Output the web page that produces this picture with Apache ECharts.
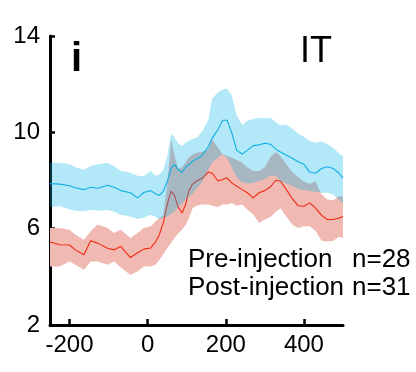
<!DOCTYPE html>
<html>
<head>
<meta charset="utf-8">
<script src="https://cdn.jsdelivr.net/npm/echarts@6/dist/echarts.min.js"></script>
<style>
html,body{margin:0;padding:0;background:#fff;}
#chart{width:416px;height:372px;}
</style>
</head>
<body>
<div id="chart"></div>
<script>
// time (ms)
var time = [-250, -225, -200, -185, -163, -146, -128, -103, -86, -69, -44, -26, -10, 8, 20, 30, 40, 50, 60, 68, 78, 88, 97, 105, 115, 125, 140, 155, 165, 180, 192, 203, 215, 228, 242, 255, 270, 285, 300, 315, 328, 340, 355, 370, 385, 400, 415, 430, 445, 460, 475, 490, 500];

// Pre-injection (blue)
var preMean = [7.87, 7.85, 7.78, 7.70, 7.62, 7.72, 7.68, 7.80, 7.72, 7.58, 7.49, 7.28, 7.50, 7.58, 7.45, 7.38, 7.55, 7.95, 8.50, 8.67, 8.45, 8.33, 8.55, 8.65, 8.80, 8.88, 9.05, 9.40, 9.75, 10.12, 10.50, 10.50, 10.00, 9.25, 9.10, 9.25, 9.45, 9.48, 9.55, 9.50, 9.30, 9.18, 9.05, 8.92, 8.78, 8.67, 8.35, 8.30, 8.50, 8.57, 8.50, 8.30, 8.10];
var preUpper = [8.74, 8.74, 8.67, 8.55, 8.45, 8.60, 8.67, 8.74, 8.60, 8.40, 8.32, 8.20, 8.18, 8.40, 8.20, 8.25, 8.45, 9.00, 9.95, 9.80, 9.55, 9.43, 9.58, 9.65, 9.72, 9.78, 10.05, 10.50, 11.40, 11.65, 11.78, 11.82, 11.55, 10.70, 10.30, 10.48, 10.55, 10.60, 10.58, 10.60, 10.42, 10.28, 10.33, 10.15, 9.95, 9.82, 9.64, 9.57, 9.62, 9.52, 9.35, 9.12, 9.01];
var preLower = [6.90, 6.93, 6.80, 6.74, 6.72, 6.79, 6.74, 6.78, 6.70, 6.58, 6.51, 6.40, 6.45, 6.58, 6.50, 6.40, 6.45, 6.52, 6.60, 6.70, 6.90, 7.05, 7.20, 7.32, 7.45, 7.65, 7.95, 8.45, 8.75, 8.95, 9.08, 8.95, 8.55, 8.15, 7.92, 7.88, 7.90, 7.98, 8.06, 8.22, 8.20, 7.97, 7.88, 7.78, 7.65, 7.60, 7.56, 7.52, 7.49, 7.49, 7.42, 7.18, 7.07];

// Post-injection (red)
var postMean = [5.45, 5.33, 5.32, 5.12, 4.92, 5.50, 5.40, 5.19, 5.12, 5.26, 4.80, 5.00, 5.15, 5.20, 5.45, 5.75, 6.25, 7.00, 7.56, 7.40, 6.90, 6.65, 7.00, 7.55, 7.85, 7.97, 8.10, 8.35, 8.30, 7.98, 8.04, 8.11, 7.90, 7.76, 7.62, 7.49, 7.28, 7.49, 7.58, 7.75, 8.01, 7.97, 7.62, 7.25, 6.95, 6.93, 7.07, 6.85, 6.55, 6.38, 6.38, 6.44, 6.51];
var postUpper = [6.03, 6.03, 5.96, 5.75, 5.54, 5.89, 6.17, 6.03, 5.82, 5.96, 5.61, 5.82, 6.03, 6.10, 6.30, 6.45, 6.55, 7.80, 9.70, 9.10, 8.50, 8.55, 8.75, 8.95, 9.08, 9.15, 9.18, 9.30, 9.70, 9.36, 9.08, 9.03, 8.95, 8.85, 8.74, 8.55, 8.39, 8.39, 8.55, 9.00, 9.18, 9.01, 8.67, 8.35, 8.15, 7.95, 7.85, 7.97, 7.42, 7.21, 7.18, 7.36, 7.32];
var postLower = [4.43, 4.43, 4.64, 4.50, 4.29, 4.64, 4.64, 4.50, 4.64, 4.40, 4.08, 4.22, 4.43, 4.43, 4.50, 4.70, 4.95, 5.19, 5.40, 5.60, 5.80, 5.95, 6.15, 6.40, 6.85, 6.95, 7.00, 7.00, 6.95, 6.90, 7.00, 7.00, 7.07, 6.95, 7.00, 6.80, 6.60, 6.24, 6.38, 6.50, 6.70, 6.85, 6.51, 6.17, 6.03, 6.10, 6.10, 5.90, 5.50, 5.47, 5.50, 5.66, 5.61];

// ticks
var xTicks = [-200, 0, 200, 400];
var yTicks = [2, 6, 10, 14];

var panelLabel = 'i';
var areaLabel = 'IT';
var groupNames = ['Pre-injection', 'Post-injection'];
var groupCounts = ['n=28', 'n=31'];

var FONT = '"Liberation Sans", Arial, Helvetica, sans-serif';

function pairs(arr) { return time.map(function (t, i) { return [t, arr[i]]; }); }

// Band drawn as one polygon through the axis scales (api.coord)
function bandSeries(name, lo, hi, color, z) {
  return {
    name: name, type: 'custom', silent: true, z: z,
    data: time.map(function (t, i) { return [t, lo[i], hi[i]]; }),
    encode: { x: 0, y: [1, 2] },
    renderItem: function (params, api) {
      if (params.dataIndex !== 0) return null;
      var pts = [];
      for (var i = 0; i < time.length; i++) pts.push(api.coord([time[i], hi[i]]));
      for (var j = time.length - 1; j >= 0; j--) pts.push(api.coord([time[j], lo[j]]));
      return { type: 'polygon', shape: { points: pts }, style: { fill: color, stroke: null } };
    }
  };
}

var chart = echarts.init(document.getElementById('chart'), null, { renderer: 'canvas' });

var series = [
  bandSeries('postBand', postLower, postUpper, '#F0B9B2', 1),
  { name: 'postMean', type: 'line', data: pairs(postMean), symbol: 'none', silent: true,
    lineStyle: { color: '#F22A12', width: 1.1 }, z: 2 },
  bandSeries('preBand', preLower, preUpper, 'rgba(0,178,232,0.3)', 3),
  { name: 'preMean', type: 'line', data: pairs(preMean), symbol: 'none', silent: true,
    lineStyle: { color: '#12AEE6', width: 1.1 }, z: 4 }
];

var legendFont = '26px ' + FONT;

chart.setOption({
  animation: false,
  backgroundColor: '#fff',
  grid: { left: 50, right: 73, top: 36, bottom: 47, containLabel: false },
  xAxis: {
    type: 'value', min: -250, max: 500,
    axisLine: { show: true, onZero: false, lineStyle: { color: '#000', width: 3 } },
    axisTick: { show: true, inside: true, length: 6, lineStyle: { color: '#000', width: 2.5 }, customValues: xTicks },
    axisLabel: { show: true, color: '#000', fontSize: 24, fontFamily: FONT, margin: 8, customValues: xTicks },
    splitLine: { show: false }
  },
  yAxis: {
    type: 'value', min: 2, max: 14,
    axisLine: { show: true, onZero: false, lineStyle: { color: '#000', width: 3 } },
    axisTick: { show: true, inside: true, length: 5, lineStyle: { color: '#000', width: 2.5 }, customValues: yTicks },
    axisLabel: { show: true, color: '#000', fontSize: 24, fontFamily: FONT, margin: 10, padding: [12, 0, 0, 0], customValues: yTicks },
    splitLine: { show: false }
  },
  graphic: [
    { type: 'text', left: 71, top: 40, z: 10, style: { text: panelLabel, font: 'bold 40px ' + FONT, fill: '#000' } },
    { type: 'text', left: 300, top: 34, z: 10, style: { text: areaLabel, font: '36px ' + FONT, fill: '#000' } },
    { type: 'text', left: 188, top: 247, z: 10, style: { text: groupNames[0], font: legendFont, fill: '#000' } },
    { type: 'text', left: 352, top: 247, z: 10, style: { text: groupCounts[0], font: legendFont, fill: '#000' } },
    { type: 'text', left: 188, top: 275, z: 10, style: { text: groupNames[1], font: legendFont, fill: '#000' } },
    { type: 'text', left: 352, top: 275, z: 10, style: { text: groupCounts[1], font: legendFont, fill: '#000' } }
  ],
  series: series
});
</script>
</body>
</html>
